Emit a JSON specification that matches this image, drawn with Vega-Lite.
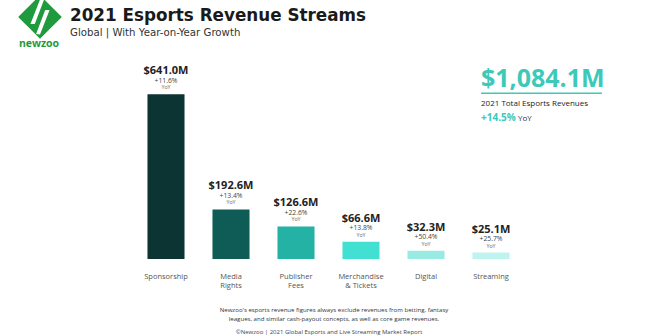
{
  "$schema": "https://vega.github.io/schema/vega-lite/v6.json",
  "width": 390,
  "height": 180,
  "autosize": {"type": "none"},
  "padding": {"left": 133.5, "right": 136.5, "top": 79, "bottom": 77},
  "background": "white",
  "config": {"view": {"stroke": null}, "font": "Open Sans"},
  "data": {
    "values": [
      {"cat": "Sponsorship", "rev": 641.0, "val": "$641.0M", "yoy": "+11.6%"},
      {"cat": "Media Rights", "rev": 192.6, "val": "$192.6M", "yoy": "+13.4%"},
      {"cat": "Publisher Fees", "rev": 126.6, "val": "$126.6M", "yoy": "+22.6%"},
      {"cat": "Merchandise & Tickets", "rev": 66.6, "val": "$66.6M", "yoy": "+13.8%"},
      {"cat": "Digital", "rev": 32.3, "val": "$32.3M", "yoy": "+50.4%"},
      {"cat": "Streaming", "rev": 25.1, "val": "$25.1M", "yoy": "+25.7%"}
    ]
  },
  "layer": [
    {
      "mark": {"type": "bar"},
      "encoding": {
        "x": {
          "field": "cat",
          "type": "nominal",
          "sort": null,
          "scale": {"paddingInner": 0.43, "paddingOuter": 0.215},
          "axis": {
            "title": null,
            "domain": false,
            "ticks": false,
            "labelAngle": 0,
            "labelPadding": 13,
            "labelFontSize": 7.5,
            "labelLineHeight": 9,
            "labelColor": "#555555",
            "labelBaseline": "top",
            "labelExpr": "datum.value == 'Media Rights' ? ['Media','Rights'] : datum.value == 'Publisher Fees' ? ['Publisher','Fees'] : datum.value == 'Merchandise & Tickets' ? ['Merchandise','& Tickets'] : datum.value"
          }
        },
        "y": {
          "field": "rev",
          "type": "quantitative",
          "scale": {"domain": [0, 700], "nice": false},
          "axis": null
        },
        "color": {
          "field": "cat",
          "type": "nominal",
          "legend": null,
          "scale": {
            "domain": ["Sponsorship", "Media Rights", "Publisher Fees", "Merchandise & Tickets", "Digital", "Streaming"],
            "range": ["#0b3433", "#0f5b55", "#24b2a5", "#41e0d2", "#9aeae4", "#bff3ef"]
          }
        }
      }
    },
    {
      "mark": {"type": "text", "dy": -20, "baseline": "alphabetic", "fontSize": 11, "fontWeight": "bold", "color": "#222222"},
      "encoding": {
        "x": {"field": "cat", "type": "nominal", "sort": null},
        "y": {"field": "rev", "type": "quantitative"},
        "text": {"field": "val"}
      }
    },
    {
      "mark": {"type": "text", "dy": -11.5, "baseline": "alphabetic", "fontSize": 6.8, "color": "#444444"},
      "encoding": {
        "x": {"field": "cat", "type": "nominal", "sort": null},
        "y": {"field": "rev", "type": "quantitative"},
        "text": {"field": "yoy"}
      }
    },
    {
      "mark": {"type": "text", "dy": -5, "baseline": "alphabetic", "fontSize": 5.3, "color": "#666666"},
      "encoding": {
        "x": {"field": "cat", "type": "nominal", "sort": null},
        "y": {"field": "rev", "type": "quantitative"},
        "text": {"value": "YoY"}
      }
    },
    {
      "data": {"values": [{"t": "2021 Esports Revenue Streams"}]},
      "mark": {"type": "text", "align": "left", "dx": -96, "baseline": "alphabetic", "font": "DejaVu Sans", "fontSize": 16.8, "fontWeight": "bold", "color": "#1a1a1a"},
      "encoding": {
        "x": {"datum": "Sponsorship", "type": "nominal"},
        "y": {"datum": 925, "type": "quantitative"},
        "text": {"field": "t"}
      }
    },
    {
      "data": {"values": [{"t": "Global | With Year-on-Year Growth"}]},
      "mark": {"type": "text", "align": "left", "dx": -96, "baseline": "alphabetic", "font": "DejaVu Sans", "fontSize": 10.2, "color": "#333333"},
      "encoding": {
        "x": {"datum": "Sponsorship", "type": "nominal"},
        "y": {"datum": 867, "type": "quantitative"},
        "text": {"field": "t"}
      }
    },
    {
      "data": {"values": [{"t": "$1,084.1M"}]},
      "mark": {"type": "text", "align": "left", "dx": -10, "baseline": "alphabetic", "fontSize": 25, "fontWeight": "bold", "color": "#3cc9b9"},
      "encoding": {
        "x": {"datum": "Streaming", "type": "nominal"},
        "y": {"datum": 669, "type": "quantitative"},
        "text": {"field": "t"}
      }
    },
    {
      "data": {"values": [{"t": "underline"}]},
      "mark": {"type": "bar", "width": 121, "xOffset": 50.5, "color": "#3cc9b9"},
      "encoding": {
        "x": {"datum": "Streaming", "type": "nominal"},
        "y": {"datum": 647.5, "type": "quantitative"},
        "y2": {"datum": 641.7}
      }
    },
    {
      "data": {"values": [{"t": "2021 Total Esports Revenues"}]},
      "mark": {"type": "text", "align": "left", "dx": -10, "baseline": "alphabetic", "fontSize": 8, "color": "#222222"},
      "encoding": {
        "x": {"datum": "Streaming", "type": "nominal"},
        "y": {"datum": 595, "type": "quantitative"},
        "text": {"field": "t"}
      }
    },
    {
      "data": {"values": [{"t": "+14.5%"}]},
      "mark": {"type": "text", "align": "left", "dx": -10, "baseline": "alphabetic", "fontSize": 10, "fontWeight": "bold", "color": "#3cc9b9"},
      "encoding": {
        "x": {"datum": "Streaming", "type": "nominal"},
        "y": {"datum": 537, "type": "quantitative"},
        "text": {"field": "t"}
      }
    },
    {
      "data": {"values": [{"t": "YoY"}]},
      "mark": {"type": "text", "align": "left", "dx": 27, "baseline": "alphabetic", "fontSize": 8, "color": "#333333"},
      "encoding": {
        "x": {"datum": "Streaming", "type": "nominal"},
        "y": {"datum": 537, "type": "quantitative"},
        "text": {"field": "t"}
      }
    },
    {
      "data": {"values": [{"t": "logo"}]},
      "mark": {"type": "point", "shape": "diamond", "filled": true, "size": 1900, "xOffset": -126, "color": "#1f9a3c", "opacity": 1},
      "encoding": {
        "x": {"datum": "Sponsorship", "type": "nominal"},
        "y": {"datum": 941, "type": "quantitative"}
      }
    },
    {
      "data": {"values": [{"t": "logo stripes"}]},
      "mark": {"type": "point", "shape": "M0,-0.8 L0.18,-0.78 L-0.24,0.32 L-0.44,0.32 Z M0.44,-0.32 L0.24,-0.32 L-0.18,0.78 L0,0.8 Z", "filled": true, "size": 1900, "xOffset": -126, "color": "#ffffff", "opacity": 1},
      "encoding": {
        "x": {"datum": "Sponsorship", "type": "nominal"},
        "y": {"datum": 941, "type": "quantitative"}
      }
    },
    {
      "data": {"values": [{"t": "newzoo"}]},
      "mark": {"type": "text", "align": "center", "dx": -127, "baseline": "alphabetic", "fontSize": 10.5, "fontWeight": "bold", "color": "#1f9a3c"},
      "encoding": {
        "x": {"datum": "Sponsorship", "type": "nominal"},
        "y": {"datum": 826, "type": "quantitative"},
        "text": {"field": "t"}
      }
    },
    {
      "data": {"values": [{"t": "Newzoo's esports revenue figures always exclude revenues from betting, fantasy\nleagues, and similar cash-payout concepts, as well as core game revenues."}]},
      "mark": {"type": "text", "align": "center", "dx": 38, "baseline": "alphabetic", "fontSize": 6.1, "lineHeight": 8.3, "lineBreak": "\n", "color": "#333333"},
      "encoding": {
        "x": {"datum": "Publisher Fees", "type": "nominal"},
        "y": {"datum": -208, "type": "quantitative"},
        "text": {"field": "t"}
      }
    },
    {
      "data": {"values": [{"t": "©Newzoo | 2021 Global Esports and Live Streaming Market Report"}]},
      "mark": {"type": "text", "align": "center", "dx": 33, "baseline": "alphabetic", "fontSize": 6, "color": "#444444"},
      "encoding": {
        "x": {"datum": "Publisher Fees", "type": "nominal"},
        "y": {"datum": -290, "type": "quantitative"},
        "text": {"field": "t"}
      }
    }
  ]
}
